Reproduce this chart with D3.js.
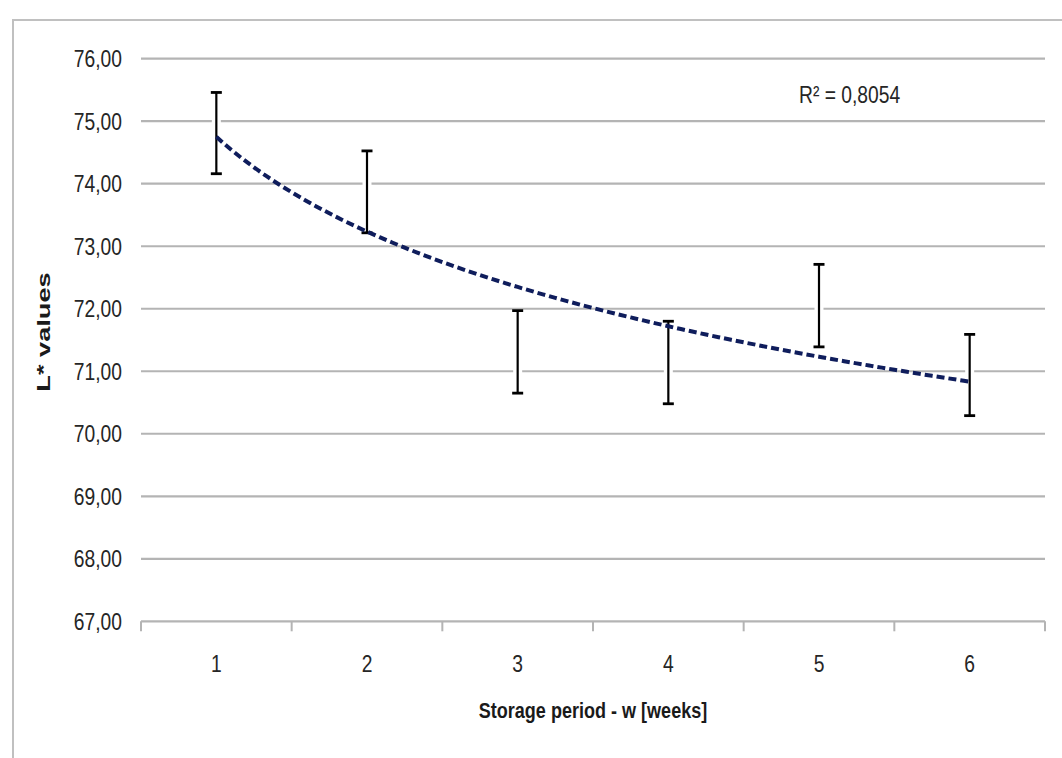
<!DOCTYPE html>
<html>
<head>
<meta charset="utf-8">
<script src="https://cdn.jsdelivr.net/npm/d3@7"></script>
<style>
  body { margin: 0; background: white; }
  svg { display: block; }
</style>
</head>
<body>
<svg id="chart" width="1062" height="758"></svg>
<script>
// storage weeks and mean L* with standard deviation
let weeks = [1, 2, 3, 4, 5, 6];
let meanL = [74.81, 73.87, 71.31, 71.14, 72.05, 70.94];
let sdL = [0.65, 0.655, 0.66, 0.66, 0.66, 0.65];
let yTicks = [67, 68, 69, 70, 71, 72, 73, 74, 75, 76];
let r2Label = "R\u00B2 = 0,8054";
let xTitle = "Storage period - w [weeks]";
let yTitle = "L* values";

let width = 1062, height = 758;
let plotLeft = 141, plotRight = 1045, plotTop = 58.7, plotBottom = 621.3;

let gridColor = "#b4b4b4", frameColor = "#c0c0c0", trendColor = "#0f1d5c";
let font_family = "'Liberation Sans', Arial, sans-serif";
let squeeze = 0.82; // the text in the picture is condensed

let svg = d3.select("#chart");

// outer frame (cropped on right and bottom)
svg.append("path")
  .attr("d", `M13,${height} L13,20 L${width},20`)
  .attr("fill", "none")
  .attr("stroke", frameColor)
  .attr("stroke-width", 2);

let x = d3.scaleBand()
  .domain(weeks)
  .range([plotLeft, plotRight]);

let y = d3.scaleLinear()
  .domain([67, 76])
  .range([plotBottom, plotTop]);

// gridlines
svg.append("g")
  .selectAll("line")
  .data(yTicks.slice(1))
  .enter()
  .append("line")
  .attr("x1", plotLeft)
  .attr("x2", plotRight)
  .attr("y1", d => y(d))
  .attr("y2", d => y(d))
  .attr("stroke", gridColor)
  .attr("stroke-width", 2.2);

// y tick labels
svg.append("g")
  .selectAll("text")
  .data(yTicks)
  .enter()
  .append("text")
  .attr("transform", d => `translate(122, ${y(d) + 8.5}) scale(${squeeze}, 1)`)
  .attr("text-anchor", "end")
  .style("font-family", font_family)
  .style("font-size", "23.5px")
  .style("fill", "#262626")
  .text(d => d.toFixed(2).replace(".", ","));

// x axis
let xAxis = svg.append("g")
  .attr("transform", `translate(0, ${plotBottom})`);

xAxis.append("line")
  .attr("x1", plotLeft)
  .attr("x2", plotRight)
  .attr("stroke", gridColor)
  .attr("stroke-width", 2.2);

let tickX = weeks.map(d => x(d)).concat([plotRight]);
xAxis.selectAll(".tick")
  .data(tickX)
  .enter()
  .append("line")
  .attr("x1", d => d)
  .attr("x2", d => d)
  .attr("y1", 0)
  .attr("y2", 10)
  .attr("stroke", gridColor)
  .attr("stroke-width", 2);

xAxis.selectAll("text")
  .data(weeks)
  .enter()
  .append("text")
  .attr("transform", d => `translate(${x(d) + x.bandwidth() / 2}, 51) scale(${squeeze}, 1)`)
  .attr("text-anchor", "middle")
  .style("font-family", font_family)
  .style("font-size", "23.5px")
  .style("fill", "#262626")
  .text(d => d);

// error bars
let cx = d => x(d) + x.bandwidth() / 2;
let bars = svg.append("g")
  .selectAll("g")
  .data(weeks.map((w, i) => ({w: w, m: meanL[i], s: sdL[i]})))
  .enter()
  .append("g");

bars.append("line")
  .attr("x1", d => cx(d.w))
  .attr("x2", d => cx(d.w))
  .attr("y1", d => y(d.m + d.s))
  .attr("y2", d => y(d.m - d.s))
  .attr("stroke", "white")
  .attr("stroke-width", 9);

bars.append("line")
  .attr("x1", d => cx(d.w))
  .attr("x2", d => cx(d.w))
  .attr("y1", d => y(d.m + d.s))
  .attr("y2", d => y(d.m - d.s))
  .attr("stroke", "black")
  .attr("stroke-width", 2.2);

[1, -1].forEach(sign => {
  bars.append("line")
    .attr("x1", d => cx(d.w) - 5.5)
    .attr("x2", d => cx(d.w) + 5.5)
    .attr("y1", d => y(d.m + sign * d.s))
    .attr("y2", d => y(d.m + sign * d.s))
    .attr("stroke", "black")
    .attr("stroke-width", 2.8);
});

// logarithmic trendline fitted to the means
let lx = weeks.map(w => Math.log(w));
let mx = d3.mean(lx), my = d3.mean(meanL);
let sxy = d3.sum(lx, (v, i) => (v - mx) * (meanL[i] - my));
let sxx = d3.sum(lx, v => (v - mx) * (v - mx));
let slope = sxy / sxx, icpt = my - slope * mx;

let wx = d3.scaleLinear()
  .domain([1, 6])
  .range([cx(1), cx(6)]);

let trendPts = d3.range(0, 61).map(i => 1 + i * 5 / 60);
svg.append("path")
  .datum(trendPts)
  .attr("d", d3.line()
    .x(d => wx(d))
    .y(d => y(icpt + slope * Math.log(d)))
    .curve(d3.curveMonotoneX))
  .attr("fill", "none")
  .attr("stroke", trendColor)
  .attr("stroke-width", 4)
  .attr("stroke-dasharray", "8,4");

// R squared label
svg.append("text")
  .attr("transform", `translate(799, 103) scale(${squeeze}, 1)`)
  .style("font-family", font_family)
  .style("font-size", "23.5px")
  .style("fill", "#262626")
  .text(r2Label);

// axis titles
svg.append("text")
  .attr("transform", `translate(${(plotLeft + plotRight) / 2}, 718) scale(${squeeze}, 1)`)
  .attr("text-anchor", "middle")
  .style("font-family", font_family)
  .style("font-weight", "bold")
  .style("font-size", "22px")
  .style("fill", "#1a1a1a")
  .text(xTitle);

svg.append("text")
  .attr("transform", "translate(50, 332) rotate(-90) scale(1.43, 1)")
  .attr("text-anchor", "middle")
  .style("font-family", font_family)
  .style("font-weight", "bold")
  .style("font-size", "19px")
  .style("fill", "#1a1a1a")
  .text(yTitle);
</script>
</body>
</html>
